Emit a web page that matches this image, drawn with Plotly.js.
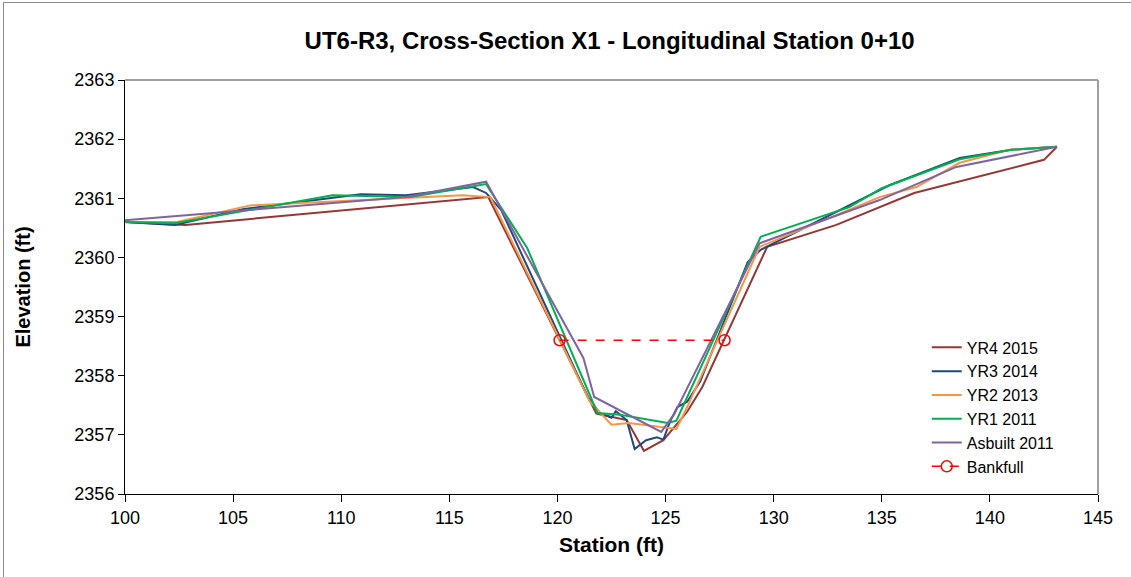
<!DOCTYPE html>
<html>
<head>
<meta charset="utf-8">
<script src="https://cdn.plot.ly/plotly-3.0.1.min.js"></script>
<style>
  html, body { margin: 0; padding: 0; background: #fff; }
  #chart { width: 1131px; height: 577px; }
  #frame { position: absolute; left: 3px; top: 2px; width: 1140px; height: 600px; border: 1px solid #8a8a8a; pointer-events: none; }
</style>
</head>
<body>
<div id="chart"></div>
<div id="frame"></div>
<script>
// Data
const yr4X = [100, 102.8, 116.8, 120.1, 121.8, 123.2, 124.0, 124.9, 126.0, 126.7, 129.7, 132.9, 136.5, 142.5, 143.1];
const yr4Y = [2360.60, 2360.55, 2361.02, 2358.62, 2357.36, 2357.25, 2356.73, 2356.91, 2357.39, 2357.81, 2360.18, 2360.55, 2361.09, 2361.65, 2361.87];

const yr3X = [100, 102.3, 105.5, 110.9, 113.0, 116.1, 116.7, 117.4, 121.4, 121.95, 122.5, 122.7, 123.2, 123.57, 124.1, 124.6, 124.9, 125.2, 125.55, 126.0, 126.6, 128.8, 129.4, 135.35, 138.6, 141.0, 143.1];
const yr3Y = [2360.60, 2360.55, 2360.82, 2361.07, 2361.05, 2361.19, 2361.09, 2360.80, 2357.64, 2357.37, 2357.29, 2357.40, 2357.25, 2356.76, 2356.91, 2356.96, 2356.92, 2357.22, 2357.47, 2357.56, 2357.90, 2359.92, 2360.13, 2361.22, 2361.68, 2361.82, 2361.87];

const yr2X = [100, 102.4, 105.8, 115.6, 116.9, 121.5, 122.5, 123.3, 125.5, 126.0, 129.35, 134.9, 136.6, 138.6, 140.9, 143.1];
const yr2Y = [2360.60, 2360.60, 2360.88, 2361.05, 2361.02, 2357.56, 2357.17, 2357.20, 2357.10, 2357.47, 2360.18, 2361.02, 2361.19, 2361.60, 2361.82, 2361.87];

const yr1X = [100, 102.3, 109.6, 113.2, 116.7, 118.6, 121.85, 122.9, 125.1, 125.5, 129.4, 133.5, 135.0, 138.6, 141.0, 143.1];
const yr1Y = [2360.60, 2360.58, 2361.05, 2361.02, 2361.24, 2360.16, 2357.37, 2357.34, 2357.20, 2357.24, 2360.35, 2360.85, 2361.17, 2361.66, 2361.82, 2361.87];

const asbX = [100, 105, 110, 113, 116.7, 120.25, 121.2, 121.7, 124.8, 125.4, 129.35, 134.9, 138.45, 143.1];
const asbY = [2360.63, 2360.78, 2360.93, 2361.02, 2361.28, 2358.94, 2358.30, 2357.64, 2357.05, 2357.35, 2360.24, 2360.97, 2361.53, 2361.87];

const bkfX = [120.1, 127.73];
const bkfY = [2358.60, 2358.60];

const xTicks = [100, 105, 110, 115, 120, 125, 130, 135, 140, 145];
const yTicks = [2356, 2357, 2358, 2359, 2360, 2361, 2362, 2363];

const FONT = "Liberation Sans, Arial, sans-serif";

function line(name, x, y, color, group) {
  return { type: 'scatter', mode: 'lines', name: name, x: x, y: y, legendgroup: group,
           line: { color: color, width: 2 }, hoverinfo: 'x+y' };
}

const traces = [
  line('YR4 2015', yr4X, yr4Y, '#953735', 'a'),
  line('YR3 2014', yr3X, yr3Y, '#1F497D', 'b'),
  line('YR2 2013', yr2X, yr2Y, '#F79646', 'c'),
  line('YR1 2011', yr1X, yr1Y, '#00B050', 'd'),
  line('Asbuilt 2011', asbX, asbY, '#8064A2', 'e'),
  { type: 'scatter', mode: 'lines+markers', name: 'Bankfull', x: bkfX, y: bkfY, legendgroup: 'f',
    line: { color: '#FF0000', width: 1.5, dash: 'dash' },
    marker: { symbol: 'circle-open', size: 11, color: '#FF0000', line: { width: 1.5, color: '#FF0000' } } }
];

const layout = {
  width: 1131, height: 577,
  margin: { l: 125, r: 33, t: 80, b: 83 },
  paper_bgcolor: '#fff', plot_bgcolor: '#fff',
  font: { family: FONT, color: '#000' },
  title: { text: '<b>UT6-R3, Cross-Section X1 - Longitudinal Station 0+10</b>',
           font: { family: FONT, size: 24, color: '#000' }, x: 0.539, xanchor: 'center', y: 0.93, yanchor: 'middle' },
  xaxis: {
    range: [100, 145], tickvals: xTicks, ticktext: xTicks.map(String),
    showgrid: false, zeroline: false, showline: true, linecolor: '#000', linewidth: 1,
    ticks: 'outside', ticklen: 7, tickcolor: '#000',
    tickfont: { family: FONT, size: 18, color: '#000' },
    title: { text: '<b>Station (ft)</b>', font: { family: FONT, size: 21, color: '#000' }, standoff: 10 }
  },
  yaxis: {
    range: [2356, 2363], tickvals: yTicks, ticktext: yTicks.map(String),
    showgrid: false, zeroline: false, showline: true, linecolor: '#000', linewidth: 1,
    ticks: 'outside', ticklen: 6, tickcolor: '#000',
    tickfont: { family: FONT, size: 18, color: '#000' },
    title: { text: '<b>Elevation (ft)</b>', font: { family: FONT, size: 20, color: '#000' }, standoff: 38 }
  },
  shapes: [
    { type: 'line', xref: 'paper', yref: 'paper', x0: 0, x1: 1, y0: 1, y1: 1, line: { color: '#a0a0a0', width: 2 }, layer: 'below' },
    { type: 'line', xref: 'paper', yref: 'paper', x0: 1, x1: 1, y0: 0, y1: 1, line: { color: '#a0a0a0', width: 2 }, layer: 'below' }
  ],
  showlegend: true,
  legend: {
    x: 0.824, y: 0.395, xanchor: 'left', yanchor: 'top',
    bgcolor: 'rgba(0,0,0,0)', borderwidth: 0,
    font: { family: FONT, size: 16, color: '#000' },
    tracegroupgap: 0
  }
};

Plotly.newPlot('chart', traces, layout, { displayModeBar: false, staticPlot: true });
</script>
</body>
</html>
